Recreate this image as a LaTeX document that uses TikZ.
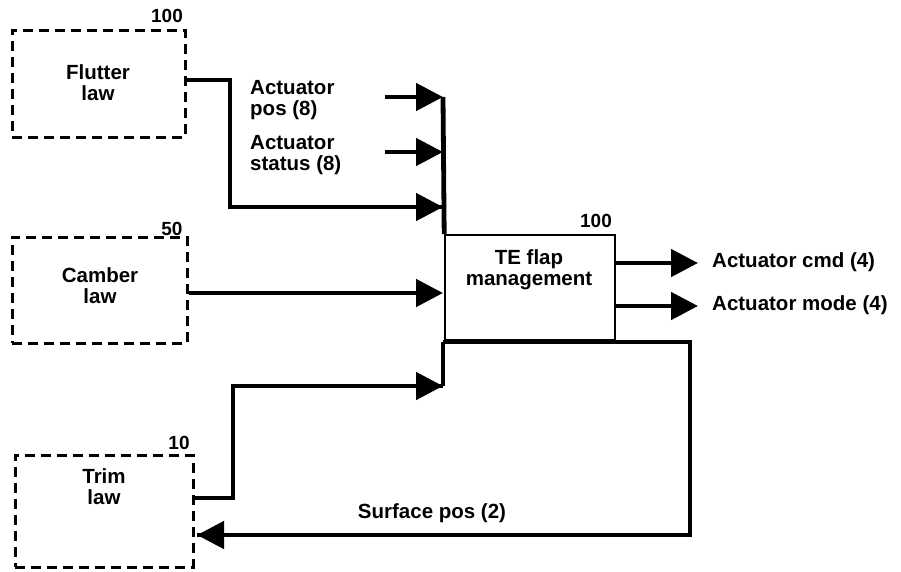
\documentclass[tikz,border=0pt]{standalone}
\usepackage{fontspec}
\setmainfont{Liberation Sans}
\usetikzlibrary{arrows.meta}
\begin{document}
\begin{tikzpicture}[x=1pt,y=-1pt,
  lawbox/.style={draw,line width=3pt,dash pattern=on 10pt off 6pt,inner sep=0pt},
  mainbox/.style={draw,line width=1.6pt,inner sep=0pt},
  txt/.style={font=\fontsize{20.5}{21}\selectfont\bfseries,align=center,inner sep=0pt},
  ltxt/.style={font=\fontsize{20.5}{21}\selectfont\bfseries,align=left,inner sep=0pt,anchor=west},
  num/.style={font=\fontsize{19}{19}\selectfont\bfseries,inner sep=0pt},
  bus/.style={line width=4.8pt},
  flow/.style={line width=4.8pt,-{Triangle[length=27pt,width=27pt]}}
]
\useasboundingbox (0,0) rectangle (901,571);
% boxes
\node[lawbox,minimum width=173pt,minimum height=107pt] (flutter) at (98.5,83.5) {};
\node[txt] (fluttertxt) at (98,83) {Flutter\\law};
\node[lawbox,minimum width=175pt,minimum height=106pt] (camber) at (99.5,290) {};
\node[txt] (cambertxt) at (100,286) {Camber\\law};
\node[lawbox,minimum width=178pt,minimum height=112pt] (trim) at (104,511) {};
\node[txt] (trimtxt) at (104,487) {Trim\\law};
\node[mainbox,minimum width=170pt,minimum height=105pt] (te) at (530,287.5) {};
\node[txt] (tetxt) at (529,270) {TE flap\\management};
% numbers
\node[num] (n1) at (167,16) {100};
\node[num] (n2) at (172,229) {50};
\node[num] (n3) at (179,443) {10};
\node[num] (n4) at (596,221) {100};
% coordinates
\coordinate (bustop) at (443,97);
\coordinate (apos) at (385,97);
\coordinate (astat) at (385,152);
\coordinate (sstat) at (443,152);
\coordinate (fl1) at (230,80);
\coordinate (fl2) at (230,207);
\coordinate (fl3) at (443,207);
\coordinate (cam) at (443,293);
\coordinate (busbot) at (443,342);
\coordinate (fb1) at (690,342);
\coordinate (fb2) at (690,535);
\coordinate (fb3) at (197,535);
\coordinate (tr1) at (233,498);
\coordinate (tr2) at (233,386);
\coordinate (tr3) at (443,386);
\coordinate (o1s) at (615,263);
\coordinate (o1e) at (698,263);
\coordinate (o2s) at (615,306);
\coordinate (o2e) at (698,306);
% bus lines
\draw[bus] (bustop) -- (te.north west);
\draw[bus] (busbot) -- (tr3);
\draw[bus,line cap=butt] (busbot) -- (fb1) -- (fb2) -- (fb3);
\draw[flow] (fb2) -- (fb3);
% inputs
\draw[flow] (apos) -- (bustop);
\draw[flow] (astat) -- (sstat);
\draw[bus] (flutter.east |- fl1) -- (fl1) -- (fl2) -- (fl3);
\draw[flow] (fl2) -- (fl3);
\draw[flow] (camber.east |- cam) -- (cam);
\draw[bus] (trim.east |- tr1) -- (tr1) -- (tr2) -- (tr3);
\draw[flow] (tr2) -- (tr3);
% outputs
\draw[flow] (o1s) -- (o1e);
\draw[flow] (o2s) -- (o2e);
% labels
\node[ltxt] (lpos) at (250,100) {Actuator\\pos (8)};
\node[ltxt] (lstat) at (250,155) {Actuator\\status (8)};
\node[ltxt] (lcmd) at (712,262) {Actuator cmd (4)};
\node[ltxt] (lmode) at (712,305) {Actuator mode (4)};
\node[txt] (lsurf) at (432,513) {Surface pos (2)};
\end{tikzpicture}
\end{document}
